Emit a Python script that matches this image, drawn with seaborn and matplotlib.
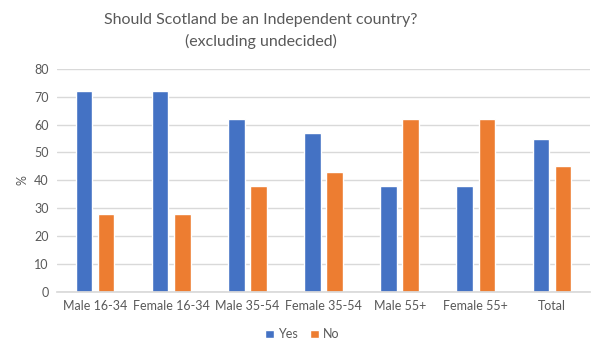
import pandas as pd
import matplotlib
matplotlib.use("Agg")
import matplotlib.pyplot as plt
import seaborn as sns

# ------------------------------
# Data
# ------------------------------
groups = ["Male 16-34", "Female 16-34", "Male 35-54", "Female 35-54",
          "Male 55+", "Female 55+", "Total"]
yes_vals = [72, 72, 62, 57, 38, 38, 55]
no_vals = [28, 28, 38, 43, 62, 62, 45]

df = pd.DataFrame({
    "group": groups * 2,
    "answer": ["Yes"] * len(groups) + ["No"] * len(groups),
    "pct": yes_vals + no_vals,
})

# ------------------------------
# Plot
# ------------------------------
sns.set_theme(style="white")
plt.rcParams["font.family"] = ["Lato", "DejaVu Sans"]
text_col = "#595959"

fig = plt.figure(figsize=(6.03, 3.53), dpi=100)
ax = fig.add_axes([0.0945, 0.173, 0.884, 0.632])

sns.barplot(data=df, x="group", y="pct", hue="answer",
            palette={"Yes": "#4472C4", "No": "#ED7D31"},
            width=0.58, gap=0.25, saturation=1, ax=ax, legend=True)

ax.set_ylim(0, 80)
ax.set_yticks(range(0, 81, 10))
ax.set_xlim(-0.5, len(groups) - 0.5)
ax.yaxis.grid(True, color="#D9D9D9", linewidth=1)
ax.set_axisbelow(True)
for s in ["top", "right", "left"]:
    ax.spines[s].set_visible(False)
ax.spines["bottom"].set_color("#D9D9D9")
ax.tick_params(axis="both", length=0, labelsize=9, colors=text_col, pad=6)
ax.set_xlabel("")
ax.set_ylabel("%", fontsize=9, color=text_col, labelpad=4)

leg = ax.legend(loc="center", bbox_to_anchor=(0.46, -0.19), ncol=2, frameon=False,
                fontsize=9, handlelength=0.7, handleheight=0.7,
                handletextpad=0.3, columnspacing=1.0)
for t in leg.get_texts():
    t.set_color(text_col)

fig.text(0.433, 0.962, "Should Scotland be an Independent country?\n(excluding undecided)",
         ha="center", va="top", fontsize=11.5, color=text_col, linespacing=1.55)

fig.savefig("out.png", dpi=100)
